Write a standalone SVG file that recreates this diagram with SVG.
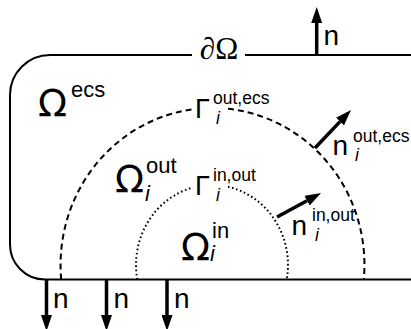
<svg xmlns="http://www.w3.org/2000/svg" width="411" height="329" viewBox="0 0 411 329">
<style>
.frame{fill:none;stroke:#000;stroke-width:2}
.dash{fill:none;stroke:#000;stroke-width:2;stroke-dasharray:6 4}
.dot{fill:none;stroke:#000;stroke-width:2;stroke-dasharray:1.6 2.6}
.arr{stroke:#000;stroke-width:3.5;fill:none}
.t{font-family:"Liberation Sans",Arial,sans-serif;fill:#000}
.big{font-family:"DejaVu Sans","Liberation Sans",sans-serif;font-size:38px}
.sup{font-size:22px}
.gam{font-size:27px}
.small{font-size:17.5px}
.n{font-size:28px}
.it{font-style:italic}
.serif{font-family:"Liberation Serif","Times New Roman",serif;font-size:31px;fill:#000}
</style>
<defs>
<marker id="ah" viewBox="0 0 16 11" refX="0" refY="5.5" markerWidth="16" markerHeight="11" markerUnits="userSpaceOnUse" orient="auto">
<path d="M0,0 L16,5.5 L0,11 Z" fill="#000"/>
</marker>
</defs>
<g id="domain">
<path class="frame" d="M411,55 H245 M192,55 H50 A40,40 0 0 0 10,95 V244.5 A35,35 0 0 0 45,279.5 H411"/>
<text class="serif" x="219" y="59" text-anchor="middle"><tspan font-style="italic">∂</tspan>Ω</text>
</g>
<g id="boundary-ecs">
<path class="dash" d="M61.2,279.5 A152,157 0 0 1 193,109.3 M228,108.8 A152,157 0 0 1 363.8,279.5"/>
</g>
<g id="boundary-in">
<path class="dot" d="M137.3,279.5 A76,80 0 0 1 193,187.5 M228,186.8 A76,80 0 0 1 286.7,279.5"/>
</g>
<g id="connectors">
<line class="arr" x1="316.7" y1="55" x2="316.7" y2="23" marker-end="url(#ah)"/>
<line class="arr" x1="46.5" y1="279.5" x2="46.5" y2="315" marker-end="url(#ah)"/>
<line class="arr" x1="106.5" y1="279.5" x2="106.5" y2="315" marker-end="url(#ah)"/>
<line class="arr" x1="167" y1="279.5" x2="167" y2="315" marker-end="url(#ah)"/>
<line class="arr" x1="315" y1="148" x2="340" y2="121.6" marker-end="url(#ah)"/>
<line class="arr" x1="277" y1="217" x2="307" y2="200.7" marker-end="url(#ah)"/>
</g>
<g id="labels-n">
<text class="t n" x="323.5" y="45">n</text>
<text class="t n" x="53" y="308">n</text>
<text class="t n" x="113.5" y="308">n</text>
<text class="t n" x="174" y="308">n</text>
</g>
<g id="omega-ecs">
<text class="t big" x="38" y="116">Ω</text>
<text class="t sup" x="71" y="97">ecs</text>
</g>
<g id="omega-out">
<text class="t big" x="115" y="192">Ω</text>
<text class="t sup" x="146" y="173">out</text>
<text class="t sup it" x="145" y="201">i</text>
</g>
<g id="omega-in">
<text class="t big" x="181" y="260">Ω</text>
<text class="t sup" x="212" y="238">in</text>
<text class="t sup it" x="210" y="261">i</text>
</g>
<g id="gamma-out-ecs">
<text class="t gam" x="195" y="118">Γ</text>
<text class="t small" x="213" y="104">out,ecs</text>
<text class="t small it" x="216" y="124">i</text>
</g>
<g id="gamma-in-out">
<text class="t gam" x="195" y="195">Γ</text>
<text class="t small" x="213" y="181">in,out</text>
<text class="t small it" x="216" y="201">i</text>
</g>
<g id="normal-out-ecs">
<text class="t n" x="332.5" y="155">n</text>
<text class="t small" x="353" y="142">out,ecs</text>
<text class="t small it" x="355" y="161">i</text>
</g>
<g id="normal-in-out">
<text class="t n" x="291.5" y="235">n</text>
<text class="t small" x="312" y="221">in,out</text>
<text class="t small it" x="315" y="241">i</text>
</g>
</svg>
